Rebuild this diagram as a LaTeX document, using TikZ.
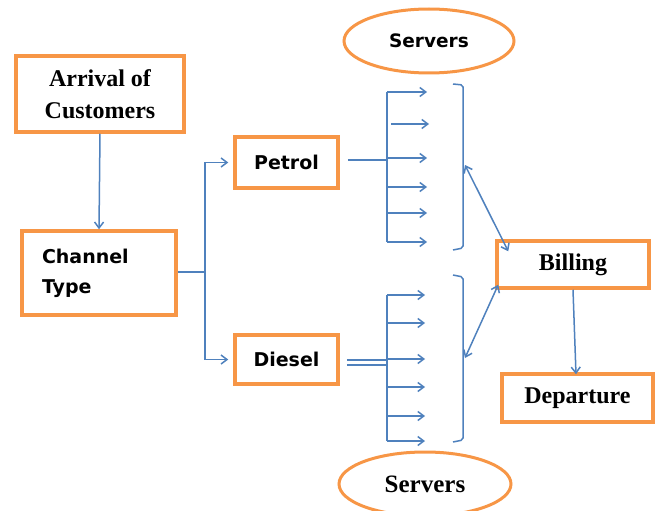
\documentclass[tikz,border=0pt]{standalone}
\usepackage{fontspec}
\setmainfont{Liberation Serif}
\newfontfamily\sansbf{DejaVu Sans}[BoldFont={DejaVu Sans Bold}]
\usetikzlibrary{arrows.meta,shapes.geometric}

\definecolor{boxorange}{RGB}{247,150,70}
\definecolor{lineblue}{RGB}{79,129,189}

\begin{document}
\begin{tikzpicture}[x=1pt, y=-1pt]
\tikzset{ >={Straight Barb[length=6pt,width=9pt]},
  stage/.style={draw=boxorange, line width=3.5pt, rectangle, inner sep=0pt},
  serif/.style={font=\fontsize{24}{32}\selectfont\bfseries},
  sans/.style={font=\fontsize{19}{30}\sansbf\bfseries},
  pool/.style={draw=boxorange, line width=3pt, ellipse, inner sep=0pt},
  flow/.style={lineblue, line width=1.5pt},
}

\clip (0,0) rectangle (659,511);

% boxes
\node [stage, serif, align=center, minimum width=168, minimum height=76] (arrival) at (100,94) {Arrival of\\Customers};
\node [stage, sans, align=left, minimum width=154, minimum height=84, text width=114, inner xsep=20pt] (channel) at (99,273) {Channel\\Type};
\node [stage, sans, minimum width=103, minimum height=51] (petrol) at (286.5,162.5) {Petrol};
\node [stage, sans, minimum width=103, minimum height=49] (diesel) at (286.5,359.5) {Diesel};
\node [stage, serif, minimum width=152, minimum height=47] (billing) at (573,264.5) {Billing};
\node [stage, serif, minimum width=151, minimum height=48] (departure) at (577.5,398) {Departure};

\node [pool, sans, font=\fontsize{18.5}{22}\sansbf\bfseries, minimum width=170, minimum height=64] (srvtop) at (429,41) {Servers};
\node [pool, serif, font=\fontsize{25}{30}\selectfont\bfseries, minimum width=172, minimum height=64] (srvbot) at (425,484) {Servers};

% arrival -> channel -> petrol / diesel
\draw [flow, ->] (arrival.south) -- (channel.north);
\coordinate (split) at (205,272);
\draw [flow] (channel.east |- split) -- (split);
\draw [flow, ->] (split) |- ([xshift=-5pt]petrol.west);
\draw [flow, ->] (split) |- ([xshift=-5pt]diesel.west);

% petrol pumps
\coordinate (pfan) at (387,160);
\draw [flow] ([xshift=8pt]petrol.east |- pfan) -- (pfan);
\draw [flow] (387,92) -- (387,242);
\foreach \y in {92,158,187,213,242}
  \draw [flow, ->] (387,\y) -- (427,\y);
\draw [flow, ->] (391,124) -- (429,124);

% diesel pumps
\coordinate (dfan) at (387,360);
\draw [flow] ([xshift=7pt]diesel.east |- dfan) -- (dfan);
\draw [flow] ([xshift=7pt]diesel.east |- 0,365) -- (387,365);
\draw [flow] (387,295) -- (387,441);
\foreach \y in {295,323,359,387,416,441}
  \draw [flow, ->] (387,\y) -- (425,\y);

% brackets
\draw [flow, rounded corners=2pt] (453,84) -- (463,85) -- (463,248) -- (453,250);
\draw [flow, rounded corners=2pt] (453,275) -- (463,277) -- (463,440) -- (453,442);

% to billing
\coordinate (pbr) at (465,165);
\coordinate (dbr) at (465,358);
\draw [flow, <->] (pbr) -- ([shift={(13pt,-12pt)}]billing.north west);
\draw [flow, <->] (dbr) -- ([shift={(3pt,5pt)}]billing.south west);
\draw [flow, ->] (billing.south) -- ([xshift=-1.5pt,yshift=-2pt]departure.north);
\end{tikzpicture}
\end{document}
